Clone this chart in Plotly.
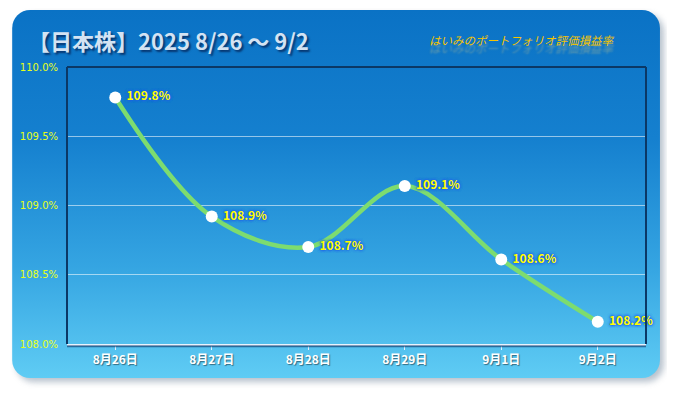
import base64
import plotly.graph_objects as go

# ---- data ----
dates = ["8月26日", "8月27日", "8月28日", "8月29日", "9月1日", "9月2日"]
values = [109.78, 108.92, 108.70, 109.14, 108.61, 108.16]
labels = ["109.8%", "108.9%", "108.7%", "109.1%", "108.6%", "108.2%"]
y_ticks = [108.0, 108.5, 109.0, 109.5, 110.0]
title_text = "【日本株】2025 8/26 〜 9/2"
subtitle_text = "はいみのポートフォリオ評価損益率"

# the page adds an 8px body margin, so the figure is laid out 8px up/left
W, H = 667, 385
L, R, T, B = 57, 29, 59, 49
PW, PH = W - L - R, H - T - B
JP = "Noto Sans CJK JP"

svg = f'''<svg xmlns="http://www.w3.org/2000/svg" width="{W}" height="{H}" viewBox="0 0 {W} {H}">
<defs>
<linearGradient id="g" x1="0" y1="0" x2="0" y2="1">
<stop offset="0" stop-color="#0a72c5"/>
<stop offset="0.35" stop-color="#1580cf"/>
<stop offset="0.7" stop-color="#35a5e2"/>
<stop offset="1" stop-color="#5fccf4"/>
</linearGradient>
<filter id="s" x="-10%" y="-10%" width="120%" height="120%">
<feGaussianBlur stdDeviation="3"/>
</filter>
</defs>
<rect x="6" y="6" width="650" height="368" rx="18" ry="18" fill="#9aa8b8" opacity="0.7" filter="url(#s)"/>
<rect x="2" y="2" width="650" height="368" rx="18" ry="18" fill="url(#g)"/>
</svg>'''
src = "data:image/svg+xml;base64," + base64.b64encode(svg.encode()).decode()

fig = go.Figure()
fig.add_trace(go.Scatter(
    x=list(range(len(dates))), y=values,
    mode="lines+markers+text",
    line=dict(color="#7ddc6f", width=4.5, shape="spline", smoothing=1.0),
    marker=dict(color="white", size=12, line=dict(width=0)),
    text=["\u00a0" + t for t in labels], textposition="middle right",
    textfont=dict(family=JP, size=12, color="#ffff00", weight="bold",
                  shadow="0 0 3px #1f5fe8, 0 0 3px #1f5fe8, 0 0 3px #1f5fe8"),
    cliponaxis=False, hoverinfo="skip", showlegend=False,
))

fig.update_layout(
    width=W, height=H,
    margin=dict(l=L, r=R, t=T, b=B),
    paper_bgcolor="white", plot_bgcolor="rgba(0,0,0,0)",
    images=[dict(source=src, xref="paper", yref="paper", x=-L / PW, y=1 + T / PH,
                 sizex=W / PW, sizey=H / PH, xanchor="left", yanchor="top",
                 sizing="stretch", layer="below")],
    xaxis=dict(range=[-0.5, 5.5], tickmode="array", tickvals=list(range(len(dates))),
               ticktext=dates, tickson="boundaries", ticks="outside", ticklen=4,
               tickcolor="#e0f0ff", showgrid=False, zeroline=False,
               showline=True, linecolor="#e6f3ff", linewidth=1.5,
               tickfont=dict(family=JP, size=12, color="white", weight="bold",
                             shadow="1px 1px 1px rgba(0,0,0,0.45)"),
               fixedrange=True),
    yaxis=dict(range=[108.0, 110.0], tickmode="array", tickvals=y_ticks,
               ticktext=[f"{v:.1f}%" for v in y_ticks],
               showgrid=True, gridcolor="rgba(255,255,255,0.55)", gridwidth=1,
               zeroline=False, showline=False,
               tickfont=dict(family="DejaVu Sans", size=10, color="#e6ff1a"),
               ticklabelstandoff=8, fixedrange=True),
    shapes=[
        dict(type="line", xref="paper", yref="paper", x0=0, x1=0, y0=0, y1=1,
             line=dict(color="#0b3866", width=2)),
        dict(type="line", xref="paper", yref="paper", x0=1, x1=1, y0=0, y1=1,
             line=dict(color="#0b3866", width=2)),
        dict(type="line", xref="paper", yref="paper", x0=0, x1=1, y0=1, y1=1,
             line=dict(color="#0b3866", width=2)),
        dict(type="line", xref="paper", yref="paper", x0=0, x1=1, y0=-0.008, y1=-0.008,
             line=dict(color="rgba(10,50,100,0.6)", width=2)),
    ],
    annotations=[
        dict(text=title_text, xref="paper", yref="paper", x=(16 - L) / PW, y=1 + 27 / PH,
             xanchor="left", yanchor="middle", showarrow=False,
             font=dict(family=JP, size=22, color="#d3e3f3",
                       weight="bold", shadow="2px 2px 2px rgba(0,0,40,0.55)")),
        dict(text=subtitle_text, xref="paper", yref="paper", x=(513 - L) / PW, y=1 + 27 / PH,
             xanchor="center", yanchor="middle", showarrow=False,
             font=dict(family=JP, size=11.5, color="#f6c400", style="italic",
                       shadow="0px 8px 2px rgba(255,220,120,0.35)")),
    ],
)

fig.write_html("out.html")
